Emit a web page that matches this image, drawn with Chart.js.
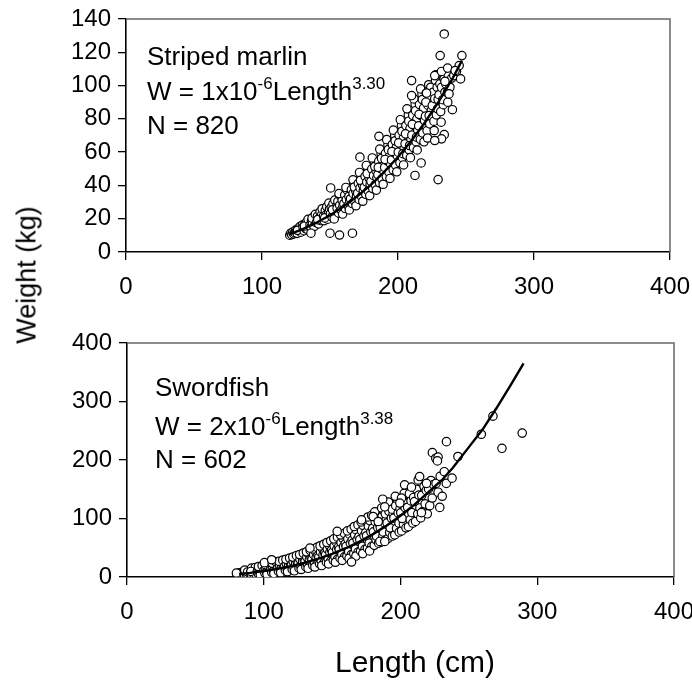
<!DOCTYPE html>
<html>
<head>
<meta charset="utf-8">
<script src="https://cdn.jsdelivr.net/npm/chart.js@4.4.0/dist/chart.umd.min.js"></script>
<style>
html,body{margin:0;padding:0;background:#fff;}
#wrap{position:relative;width:692px;height:681px;overflow:hidden;font-family:'Liberation Sans',Arial,sans-serif;}
canvas{position:absolute;left:0;}
#c1{top:0;}
#c2{top:300px;}
.ttl{position:absolute;color:#000;white-space:nowrap;}
#ytitle{left:27px;top:275px;font-size:27px;line-height:27px;transform:translate(-50%,-50%) rotate(-90deg);}
#xtitle{left:415px;top:647px;font-size:30px;line-height:30px;transform:translateX(-50%);}
</style>
</head>
<body>
<div id="wrap">
<canvas id="c1" width="692" height="320"></canvas>
<canvas id="c2" width="692" height="381"></canvas>
<div class="ttl" id="ytitle">Weight (kg)</div>
<div class="ttl" id="xtitle">Length (cm)</div>
</div>
<script>
// ---------------- data ----------------
const xTicks = [0, 100, 200, 300, 400];
const marlinYTicks = [0, 20, 40, 60, 80, 100, 120, 140];
const swordYTicks = [0, 100, 200, 300, 400];

const marlinLabel = ["Striped marlin", "W = 1x10", "-6", "Length", "3.30", "N = 820"];
const swordLabel = ["Swordfish", "W = 2x10", "-6", "Length", "3.38", "N = 602"];

const marlinPoints = [
[120.4,10.1],[121.2,11.3],[121.9,10.4],[122.6,12.0],[123.3,10.9],[124.1,11.6],[124.7,13.2],
[125.3,12.4],[125.8,11.2],[126.6,14.1],[127.2,12.8],[127.9,15.3],[128.5,11.9],[129.1,13.7],[129.7,16.2],[126.1,13.0],
[130.2,14.9],[130.9,12.8],[131.5,16.8],[132.0,14.1],[132.8,18.0],[133.4,13.6],[134.0,15.9],[134.6,17.4],[131.2,15.6],[133.9,19.6],
[135.3,16.2],[135.9,14.8],[136.4,18.9],[137.1,17.0],[137.6,21.0],[138.2,15.3],[138.8,19.2],[139.5,17.8],[136.8,20.3],[139.2,22.6],
[140.3,18.3],[140.8,21.5],[141.6,16.9],[142.1,20.4],[142.7,24.1],[143.3,18.9],[143.9,22.3],[144.6,20.0],[141.0,19.4],[144.2,26.0],
[145.2,21.6],[145.7,18.8],[146.5,24.9],[147.0,22.1],[147.6,27.2],[148.3,19.7],[148.9,23.6],[149.6,25.8],[146.1,20.5],[149.2,29.4],
[150.3,23.0],[150.9,26.8],[151.4,21.1],[152.2,28.9],[152.8,24.5],[153.5,31.2],[154.1,22.6],[154.7,27.1],[151.8,25.4],[153.1,19.9],
[155.2,26.3],[155.8,30.4],[156.3,23.5],[157.1,28.1],[157.7,33.6],[158.2,25.2],[158.9,31.0],[159.6,27.7],[156.6,35.1],[159.3,22.8],
[160.2,29.0],[160.8,34.2],[161.3,26.1],[162.0,31.5],[162.6,37.2],[163.3,27.9],[163.9,33.4],[164.5,30.6],[161.7,38.8],[164.2,25.3],
[165.1,32.0],[165.7,37.5],[166.4,29.1],[167.0,35.2],[167.5,41.3],[168.2,30.4],[168.8,36.9],[169.5,33.6],[166.9,43.4],[169.1,27.8],[167.9,39.0],
[170.3,35.3],[170.8,41.2],[171.4,31.6],[172.1,38.5],[172.7,45.0],[173.2,33.4],[173.9,40.3],[174.5,36.8],[171.7,47.8],[174.1,30.5],[172.4,43.1],
[175.2,38.9],[175.8,45.4],[176.3,34.7],[177.0,42.0],[177.6,49.6],[178.1,36.7],[178.8,44.3],[179.5,40.6],[176.7,52.0],[179.2,33.9],[177.3,47.1],
[180.1,42.5],[180.7,49.8],[181.4,38.1],[182.0,46.0],[182.6,54.2],[183.3,40.4],[183.9,48.7],[184.5,44.6],[181.1,56.5],[184.1,37.2],[182.9,51.3],
[185.2,46.5],[185.8,54.4],[186.4,41.6],[187.0,50.3],[187.6,59.1],[188.2,44.0],[188.8,53.0],[189.5,48.6],[186.6,61.8],[189.1,40.7],[187.9,56.2],[185.5,50.9],
[190.2,50.8],[190.8,59.3],[191.4,45.3],[192.0,54.8],[192.6,64.4],[193.3,48.0],[193.9,57.8],[194.5,53.0],[191.7,67.5],[194.1,44.2],[192.9,61.5],[190.5,55.6],
[195.2,55.3],[195.8,64.6],[196.4,49.4],[197.0,59.7],[197.6,70.1],[198.2,52.2],[198.8,63.0],[199.5,57.7],[196.6,73.2],[199.1,48.2],[197.9,66.8],[195.5,60.4],
[200.2,60.0],[200.8,70.1],[201.4,53.6],[202.0,64.8],[202.6,76.0],[203.3,56.7],[203.9,68.4],[204.5,62.6],[201.7,79.5],[204.1,52.3],[202.9,72.5],[200.5,65.6],[203.6,59.1],
[205.2,65.0],[205.8,76.0],[206.4,58.1],[207.0,70.2],[207.6,82.3],[208.2,61.4],[208.8,74.1],[209.5,67.8],[206.6,86.0],[209.1,56.7],[207.9,78.6],[205.5,71.0],[208.5,64.0],
[210.2,70.2],[210.8,82.1],[211.4,62.8],[212.0,75.9],[212.6,88.9],[213.3,66.3],[213.9,80.0],[214.5,73.3],[211.7,92.0],[214.1,61.3],[212.9,84.9],[210.5,76.7],[213.6,69.0],
[215.2,75.8],[215.8,88.6],[216.4,67.7],[217.0,81.9],[217.6,95.0],[218.2,71.5],[218.8,86.4],[219.5,79.0],[216.6,98.0],[219.1,66.2],[217.9,91.6],[215.5,82.7],
[220.2,81.6],[220.8,95.4],[221.4,72.9],[222.0,88.2],[222.6,100.5],[223.3,77.0],[223.9,93.0],[224.5,85.1],[221.7,68.5],[224.1,99.0],[222.9,82.0],[220.5,90.0],
[225.2,88.0],[225.8,96.0],[226.4,78.6],[227.0,92.1],[227.6,103.0],[228.2,82.4],[228.8,99.0],[229.5,91.7],[226.6,73.0],[229.1,86.0],[227.9,106.5],
[230.2,94.5],[230.8,101.0],[231.4,84.4],[232.0,98.9],[233.3,88.5],[233.9,104.0],[234.5,96.0],[231.7,78.0],[232.9,91.5],
[235.2,101.0],[236.4,96.0],[237.0,106.0],[238.2,99.0],[239.5,104.5],[236.6,90.0],
[241.0,106.0],[243.0,108.5],[245.0,112.0],[246.0,104.0],
[234,131],[231,118],[247,118],[210,103],[210,94],[227,106],[232,108.5],[236.5,110.5],[242,109],[234.5,102.5],[237.5,95],
[240,85.5],[221,95.5],[186,69.5],[212.5,46],[229.5,43.5],[234,70.5],[232,68],[227,67],[217,53.5],[150.5,38.5],[172,57],
[136,11.3],[150,11.3],[157,10.2],[166.5,11.3]
];

const swordPoints = [
[80.4,5.2],[81.3,3.6],[82.1,7.1],[82.9,4.4],[83.6,6.0],[84.4,8.3],[81.8,2.8],[84.0,3.9],
[85.2,6.6],[85.9,4.1],[86.5,9.2],[87.2,5.3],[87.8,7.8],[88.5,3.6],[89.1,10.5],[89.7,6.2],[86.1,11.8],[88.2,8.6],
[90.3,7.4],[90.9,4.6],[91.6,11.0],[92.2,6.1],[92.9,13.4],[93.5,8.8],[94.2,5.2],[94.7,10.2],[91.1,15.1],[93.8,16.3],[90.6,9.5],
[95.3,9.6],[95.9,5.9],[96.6,13.0],[97.2,7.4],[97.8,15.7],[98.5,10.8],[99.1,6.5],[99.7,12.1],[96.1,17.8],[98.8,19.4],[97.5,3.9],
[100.2,11.2],[100.8,6.8],[101.5,15.3],[102.1,8.7],[102.7,18.4],[103.3,12.5],[104.0,7.5],[104.6,14.0],[101.2,21.0],[103.9,22.6],[102.4,4.8],[100.5,24.5],
[105.2,13.2],[105.8,8.0],[106.5,17.6],[107.1,10.4],[107.7,21.2],[108.3,14.6],[109.0,9.1],[109.6,16.5],[106.2,23.8],[108.9,25.9],[107.4,6.0],
[110.2,15.3],[110.8,9.6],[111.5,20.2],[112.1,12.1],[112.7,24.1],[113.3,17.0],[114.0,10.7],[114.6,19.1],[111.2,26.9],[113.9,28.8],[112.4,7.4],
[115.2,17.6],[115.8,11.2],[116.5,23.0],[117.1,14.0],[117.7,27.2],[118.3,19.6],[119.0,12.4],[119.6,21.9],[116.2,30.2],[118.9,32.4],[117.4,9.0],
[120.2,20.3],[120.8,13.0],[121.5,26.4],[122.1,16.2],[122.7,31.0],[123.3,22.6],[124.0,14.4],[124.6,25.2],[121.2,34.0],[123.9,36.5],[122.4,10.6],
[125.2,23.2],[125.8,15.0],[126.5,30.0],[127.1,18.6],[127.7,35.1],[128.3,25.9],[129.0,16.6],[129.6,28.7],[126.2,38.4],[128.9,41.0],[127.4,12.8],
[130.2,26.4],[130.8,17.3],[131.5,34.0],[132.1,21.2],[132.7,39.5],[133.3,29.4],[134.0,18.9],[134.6,32.5],[131.2,43.0],[133.9,45.6],[132.4,14.9],
[135.2,29.9],[135.8,19.8],[136.5,38.2],[137.1,24.0],[137.7,44.1],[138.3,33.2],[139.0,21.5],[139.6,36.6],[136.2,48.0],[138.9,50.6],[137.4,17.1],
[140.2,33.6],[140.8,22.5],[141.5,42.8],[142.1,27.2],[142.7,49.2],[143.3,37.4],[144.0,24.3],[144.6,41.0],[141.2,53.2],[143.9,56.0],[142.4,19.6],
[145.2,37.8],[145.8,25.4],[146.5,47.8],[147.1,30.6],[147.7,54.6],[148.3,41.9],[149.0,27.4],[149.6,45.8],[146.2,59.0],[148.9,61.8],[147.4,22.3],
[150.2,42.2],[150.8,28.6],[151.5,53.1],[152.1,34.3],[152.7,60.4],[153.3,46.8],[154.0,30.7],[154.6,51.0],[151.2,65.2],[153.9,68.0],[152.4,25.2],
[155.2,47.1],[155.8,32.1],[156.5,58.9],[157.1,38.4],[157.7,66.6],[158.3,52.1],[159.0,34.4],[159.6,56.6],[156.2,71.8],[158.9,74.6],[157.4,28.5],
[160.2,52.3],[160.8,35.9],[161.5,65.1],[162.1,42.8],[162.7,73.2],[163.3,57.8],[164.0,38.4],[164.6,62.6],[161.2,78.8],[163.9,81.5],[162.4,32.0],
[165.2,58.0],[165.8,40.0],[166.5,71.8],[167.1,47.5],[167.7,80.4],[168.3,63.9],[169.0,42.7],[169.6,69.0],[166.2,86.3],[168.9,89.0],[167.4,35.8],
[170.2,64.0],[170.8,44.4],[171.5,79.0],[172.1,52.5],[172.7,88.0],[173.3,70.4],[174.0,47.3],[174.6,75.9],[171.2,94.2],[173.9,97.0],[172.4,40.0],
[175.2,70.5],[175.8,49.2],[176.5,86.6],[177.1,57.9],[177.7,96.1],[178.3,77.3],[179.0,52.4],[179.6,83.1],[176.2,102.6],[178.9,105.3],[177.4,44.6],
[180.2,77.3],[180.8,54.2],[181.5,94.6],[182.1,63.6],[182.7,104.7],[183.3,84.6],[184.0,57.8],[184.6,90.8],[181.2,111.4],[183.9,99.0],[182.4,70.0],
[185.2,84.6],[185.8,59.7],[186.5,103.2],[187.1,69.7],[187.7,113.8],[188.3,92.4],[189.0,63.6],[189.6,98.9],[186.2,118.0],[188.9,108.0],[187.4,77.0],
[190.2,92.5],[190.8,65.6],[191.5,112.4],[192.1,76.2],[192.7,123.5],[193.3,100.7],[194.0,70.0],[194.6,107.5],[191.2,128.0],[193.9,116.0],[192.4,84.0],
[195.2,100.8],[195.8,72.0],[196.5,122.0],[197.1,83.2],[197.7,133.0],[198.3,109.5],[199.0,76.8],[199.6,116.5],[196.2,138.0],[198.9,92.0],
[200.2,109.7],[200.8,78.8],[201.5,132.0],[202.1,90.5],[202.7,143.0],[203.3,118.8],[204.0,84.0],[204.6,126.0],[201.2,100.0],
[205.2,119.2],[205.8,86.0],[206.5,142.5],[207.1,98.2],[207.7,130.0],[208.3,110.0],[209.0,92.0],[209.6,136.0],
[210.2,129.0],[211.0,95.0],[211.8,150.0],[212.6,108.0],[213.4,140.0],[214.2,118.0],[214.8,101.0],
[215.5,139.5],[216.3,112.0],[217.2,155.0],[218.0,125.0],[218.8,148.0],[219.6,108.0],
[220.5,150.5],[221.4,122.0],[222.3,165.0],[223.2,135.0],[224.1,158.0],
[226.0,160.0],[227.5,145.0],[229.0,172.0],[230.5,138.0],[232.0,180.0],[233.5,160.0],
[187,133],[188.5,120],[153.7,78],[133.8,49.5],[164.2,25.6],[105.8,29.5],[184.9,60.8],[203,157.5],[208,153.6],
[200.7,134.8],[233.6,231.4],[223.3,212.6],[225.8,203],[227.5,205],[227,198.5],[242,206],[237.7,169],[228.7,119],
[259.1,244],[267.6,275],[274.2,220],[289,246],[212.9,166],[219,160],[214,171.7],[215.3,110],[199.5,126.3],
[188.5,60.8],[171.5,97.8],[180,103.4],[183.7,94.9],[80,6.8]
];

// fitted curves
const marlinCurveLength = [120, 130, 140, 150, 160, 170, 180, 190, 200, 210, 220, 230, 240, 247];
const marlinCurveWeight = [10.6, 13.8, 17.6, 22.1, 27.3, 33.4, 40.3, 48.2, 57.1, 67.0, 78.1, 90.5, 104.1, 115];
const swordCurveLength = [82, 90, 100, 110, 120, 130, 140, 150, 160, 170, 180, 190, 200, 210, 220, 230, 238, 250, 260, 270, 280, 290];
const swordCurveWeight = [5.1, 7.0, 10.0, 13.9, 18.6, 24.4, 31.3, 39.5, 49.2, 60.4, 73.3, 87.9, 104.6, 123.3, 144.3, 165, 186, 222, 252, 288, 326, 365];

// ---------------- rendering ----------------
const FONT = "'Liberation Sans', Arial, sans-serif";

function annotPlugin(lbl, x, baselines, supRaise) {
  return {
    id: 'annot',
    afterDraw(chart) {
      const ctx = chart.ctx;
      const a = chart.chartArea;
      ctx.save();
      ctx.strokeStyle = '#666';
      ctx.lineWidth = 1.5;
      ctx.beginPath();
      ctx.moveTo(a.left, a.top);
      ctx.lineTo(a.right, a.top);
      ctx.lineTo(a.right, a.bottom);
      ctx.stroke();
      ctx.fillStyle = '#000';
      ctx.textBaseline = 'alphabetic';
      ctx.textAlign = 'left';
      const big = '26px ' + FONT, small = '17px ' + FONT;
      ctx.font = big;
      ctx.fillText(lbl[0], x, baselines[0]);
      let cx = x;
      ctx.font = big; ctx.fillText(lbl[1], cx, baselines[1]); cx += ctx.measureText(lbl[1]).width;
      ctx.font = small; ctx.fillText(lbl[2], cx, baselines[1] - supRaise); cx += ctx.measureText(lbl[2]).width;
      ctx.font = big; ctx.fillText(lbl[3], cx, baselines[1]); cx += ctx.measureText(lbl[3]).width;
      ctx.font = small; ctx.fillText(lbl[4], cx, baselines[1] - supRaise);
      ctx.font = big;
      ctx.fillText(lbl[5], x, baselines[2]);
      ctx.restore();
    }
  };
}

function makeChart(canvasId, pts, curveL, curveW, yTicks, layout, lbl, annotX, baselines) {
  const yMax = yTicks[yTicks.length - 1];
  const ctx = document.getElementById(canvasId).getContext('2d');
  return new Chart(ctx, {
    type: 'scatter',
    data: {
      datasets: [
        {
          type: 'line',
          data: curveL.map((l, i) => ({ x: l, y: curveW[i] })),
          borderColor: '#000',
          borderWidth: 2.4,
          pointRadius: 0,
          fill: false,
          tension: 0,
          order: 0
        },
        {
          data: pts.map(p => ({ x: p[0], y: p[1] })),
          pointRadius: 4.2,
          pointBorderWidth: 1.2,
          pointBorderColor: '#000',
          pointBackgroundColor: '#fff',
          borderColor: '#000',
          backgroundColor: '#fff',
          order: 1
        }
      ]
    },
    options: {
      responsive: false,
      animation: false,
      events: [],
      layout: { padding: layout.padding },
      plugins: { legend: { display: false }, tooltip: { enabled: false } },
      scales: {
        x: {
          type: 'linear', min: xTicks[0], max: xTicks[xTicks.length - 1],
          afterBuildTicks: s => { s.ticks = xTicks.map(v => ({ value: v })); },
          ticks: { color: '#000', font: { family: FONT, size: 24 }, padding: 13, maxRotation: 0 },
          grid: { display: true, drawOnChartArea: false, drawTicks: true, tickLength: 8, color: '#000', lineWidth: 1.3 },
          border: { display: true, color: '#000', width: 1.6 },
          afterFit: s => { s.height = layout.xHeight; s.paddingLeft = 0; s.paddingRight = 0; }
        },
        y: {
          type: 'linear', min: 0, max: yMax,
          afterBuildTicks: s => { s.ticks = yTicks.map(v => ({ value: v })); },
          ticks: { color: '#000', font: { family: FONT, size: 24 }, padding: 7 },
          grid: { display: true, drawOnChartArea: false, drawTicks: true, tickLength: 8, color: '#000', lineWidth: 1.3 },
          border: { display: true, color: '#000', width: 1.6 },
          afterFit: s => { s.width = layout.yWidth; s.paddingTop = 0; s.paddingBottom = 0; }
        }
      }
    },
    plugins: [annotPlugin(lbl, annotX, baselines, 11)]
  });
}

// top panel: chart area 126..670 x 19..252 (canvas 692x320)
makeChart('c1', marlinPoints, marlinCurveLength, marlinCurveWeight, marlinYTicks,
  { padding: { left: 0, right: 22, top: 19, bottom: 8 }, xHeight: 60, yWidth: 126 },
  marlinLabel, 147, [65, 100, 133.5]);

// bottom panel: chart area 127..674 x 343..577 (canvas at y=300, 692x381)
makeChart('c2', swordPoints, swordCurveLength, swordCurveWeight, swordYTicks,
  { padding: { left: 0, right: 18, top: 43, bottom: 44 }, xHeight: 60, yWidth: 127 },
  swordLabel, 155, [95.7, 135, 168.3]);
</script>
</body>
</html>
